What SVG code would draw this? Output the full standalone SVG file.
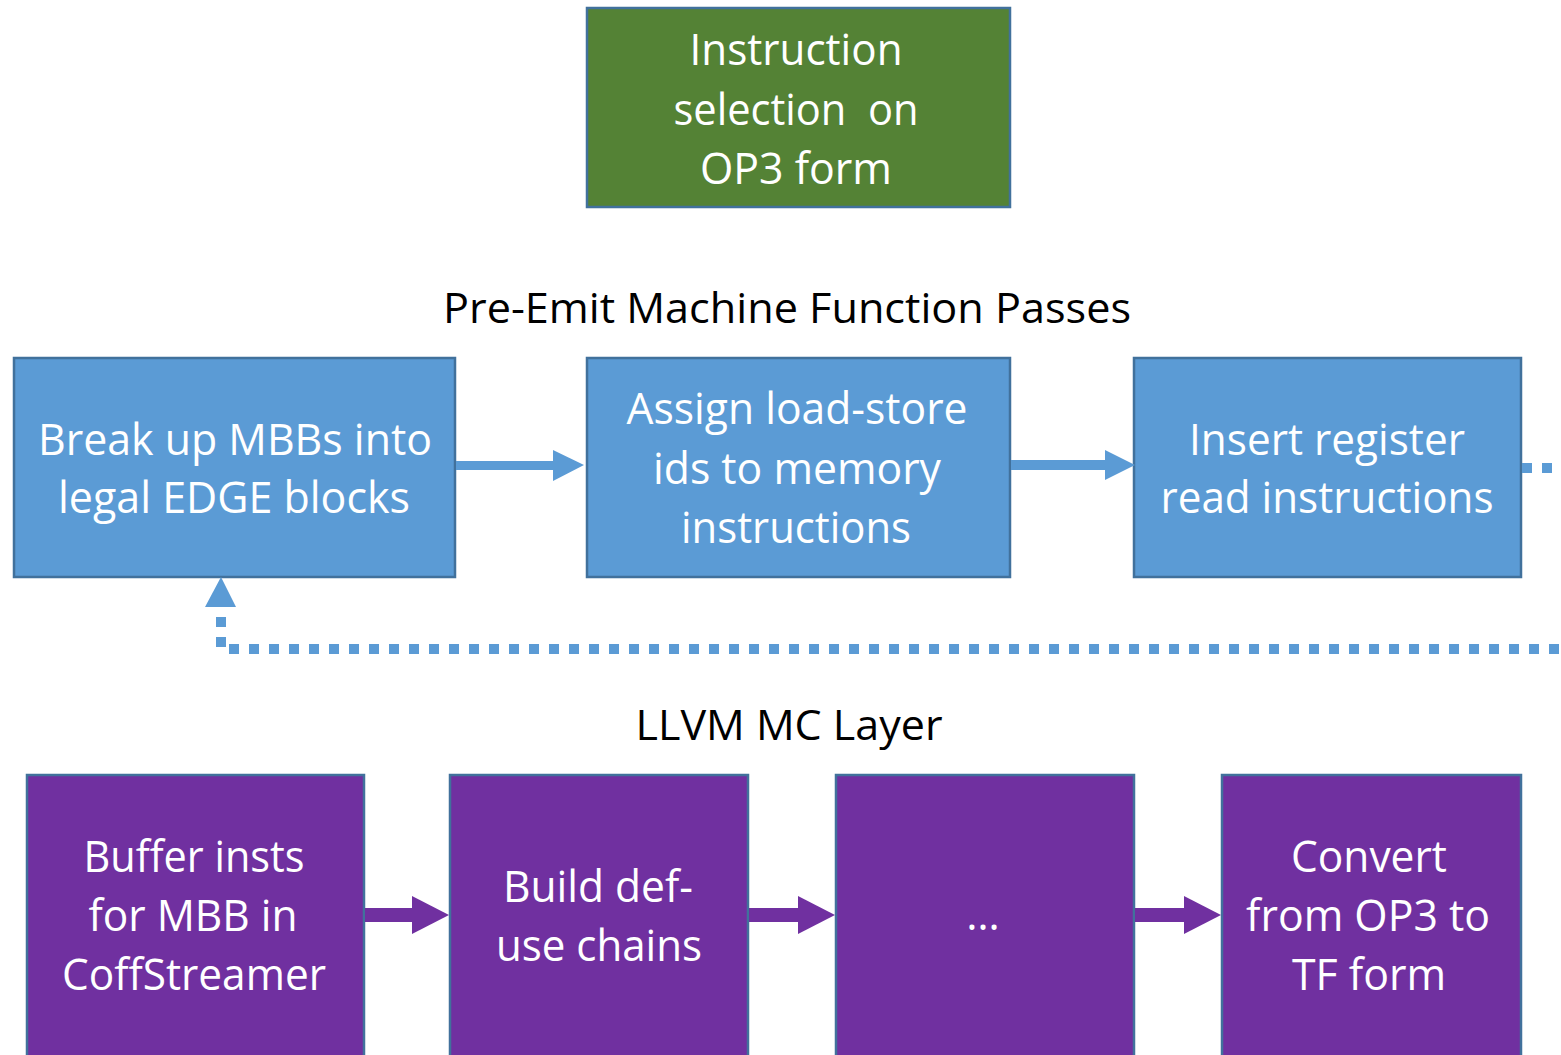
<svg xmlns="http://www.w3.org/2000/svg" width="1561" height="1055" viewBox="0 0 1561 1055">
<style>
.box{stroke:#41719C;stroke-width:2.5}
.green{fill:#548235}
.blue{fill:#5B9BD5}
.purple{fill:#7030A0}
.t{font-family:"Open Sans","Liberation Sans",sans-serif;font-size:43px;fill:#FFFFFF;text-anchor:middle}
.h{font-family:"Open Sans","Liberation Sans",sans-serif;font-size:42px;fill:#000000;text-anchor:middle}
.ba{fill:#5B9BD5}
.pa{fill:#7030A0}
</style>
<rect width="1561" height="1055" fill="#FFFFFF"/>
<g id="title-preemit"><text class="h" x="787" y="323" textLength="688" lengthAdjust="spacingAndGlyphs">Pre-Emit Machine Function Passes</text></g>
<g id="title-mc"><text class="h" x="789" y="740" textLength="307" lengthAdjust="spacingAndGlyphs">LLVM MC Layer</text></g>
<g id="isel">
<rect class="box green" x="587" y="8" width="423" height="199"/>
<text class="t" x="796" y="65" textLength="213" lengthAdjust="spacingAndGlyphs">Instruction</text>
<text class="t" x="796" y="125" textLength="245" lengthAdjust="spacingAndGlyphs" xml:space="preserve">selection  on</text>
<text class="t" x="796" y="184" textLength="192" lengthAdjust="spacingAndGlyphs">OP3 form</text>
</g>
<g id="break">
<rect class="box blue" x="14" y="358" width="441" height="219"/>
<text class="t" x="235" y="455" textLength="394" lengthAdjust="spacingAndGlyphs">Break up MBBs into</text>
<text class="t" x="234" y="513" textLength="352" lengthAdjust="spacingAndGlyphs">legal EDGE blocks</text>
</g>
<g id="assign">
<rect class="box blue" x="587" y="358" width="423" height="219"/>
<text class="t" x="797" y="424" textLength="341" lengthAdjust="spacingAndGlyphs">Assign load-store</text>
<text class="t" x="797" y="484" textLength="288" lengthAdjust="spacingAndGlyphs">ids to memory</text>
<text class="t" x="796" y="543" textLength="230" lengthAdjust="spacingAndGlyphs">instructions</text>
</g>
<g id="insert">
<rect class="box blue" x="1134" y="358" width="387" height="219"/>
<text class="t" x="1327" y="455" textLength="276" lengthAdjust="spacingAndGlyphs">Insert register</text>
<text class="t" x="1327" y="513" textLength="333" lengthAdjust="spacingAndGlyphs">read instructions</text>
</g>
<g id="buffer">
<rect class="box purple" x="27" y="775" width="337" height="290"/>
<text class="t" x="194" y="872" textLength="221" lengthAdjust="spacingAndGlyphs">Buffer insts</text>
<text class="t" x="193" y="931" textLength="209" lengthAdjust="spacingAndGlyphs">for MBB in</text>
<text class="t" x="194" y="990" textLength="264" lengthAdjust="spacingAndGlyphs">CoffStreamer</text>
</g>
<g id="build">
<rect class="box purple" x="450" y="775" width="298" height="290"/>
<text class="t" x="598" y="902" textLength="190" lengthAdjust="spacingAndGlyphs">Build def-</text>
<text class="t" x="599" y="961" textLength="206" lengthAdjust="spacingAndGlyphs">use chains</text>
</g>
<g id="ellipsis">
<rect class="box purple" x="836" y="775" width="298" height="290"/>
<text class="t" x="983" y="930">…</text>
</g>
<g id="convert">
<rect class="box purple" x="1222" y="775" width="299" height="290"/>
<text class="t" x="1369" y="872" textLength="156" lengthAdjust="spacingAndGlyphs">Convert</text>
<text class="t" x="1368" y="931" textLength="244" lengthAdjust="spacingAndGlyphs">from OP3 to</text>
<text class="t" x="1369" y="990" textLength="154" lengthAdjust="spacingAndGlyphs">TF form</text>
</g>
<g id="connectors">
<rect class="ba" x="456" y="461" width="98" height="9"/>
<polygon class="ba" points="553,450 584,465 553,481"/>
<rect class="ba" x="1011" y="460" width="95" height="10"/>
<polygon class="ba" points="1105,450 1135,465 1105,480"/>
<path d="M1522,468 H1600 V649 H221 V610" fill="none" stroke="#5B9BD5" stroke-width="10" stroke-dasharray="10 10"/>
<polygon class="ba" points="221,577 236,607 205,607"/>
<rect class="pa" x="365" y="908" width="48" height="14"/>
<polygon class="pa" points="412,896 449,915 412,934"/>
<rect class="pa" x="749" y="908" width="50" height="14"/>
<polygon class="pa" points="798,896 835,915 798,934"/>
<rect class="pa" x="1135" y="908" width="50" height="14"/>
<polygon class="pa" points="1184,896 1221,915 1184,934"/>
</g>
</svg>
